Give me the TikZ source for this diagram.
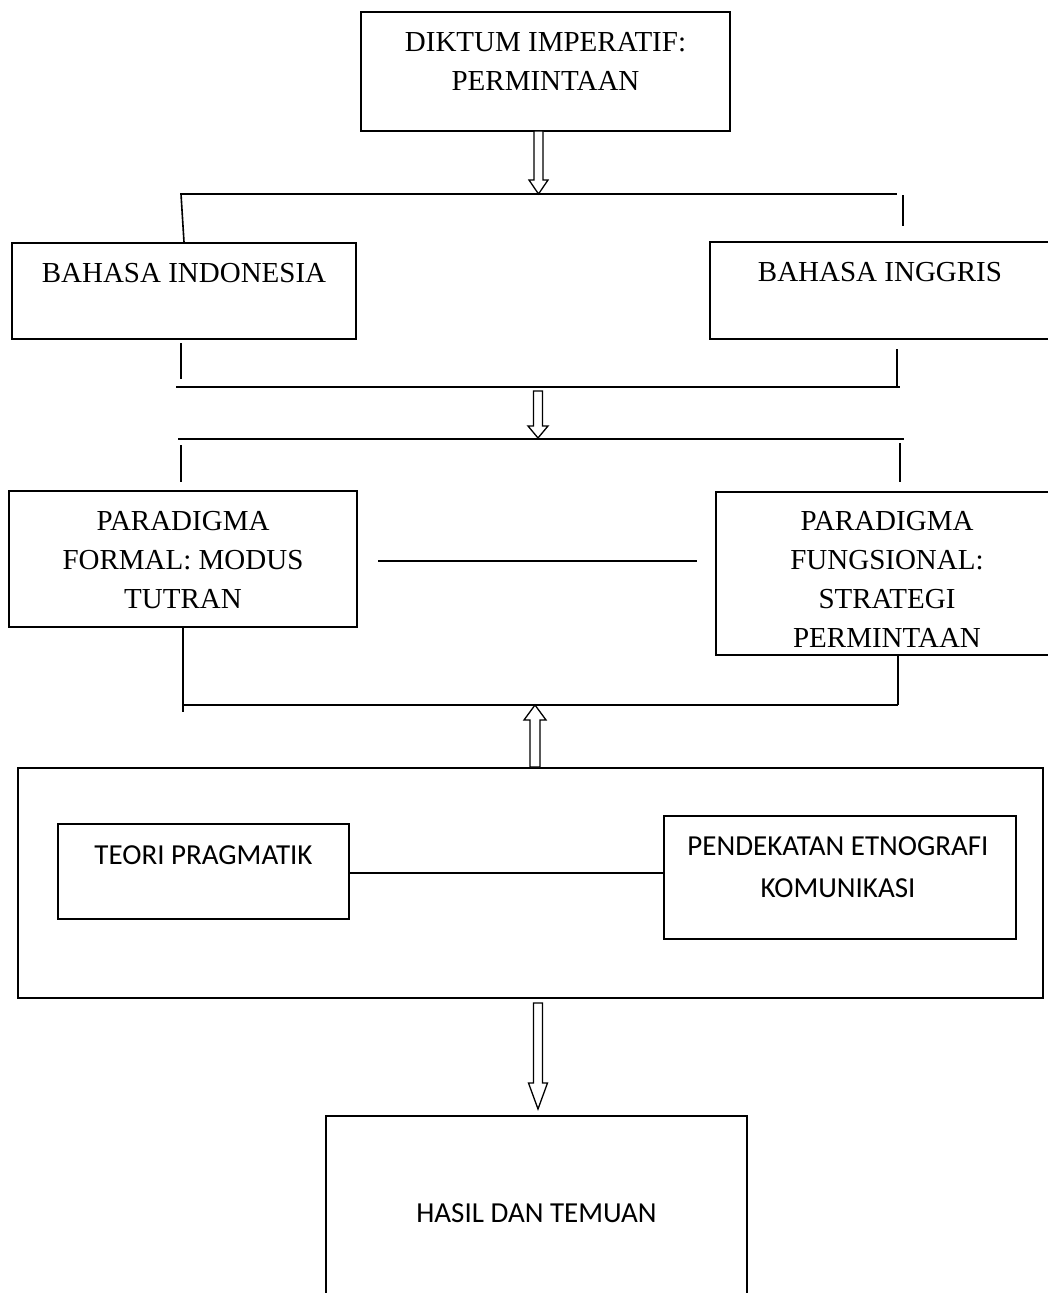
\documentclass[tikz,border=0pt]{standalone}
\usepackage{fontspec}
\setmainfont{Liberation Serif}
\newfontfamily\calib{Carlito}
\begin{document}
\begin{tikzpicture}[x=1pt,y={(0pt,-1pt)},
  box/.style={draw, line width=1.8pt, inner sep=0pt, minimum width=#1},
  conn/.style={line width=1.6pt},
  harrow/.style={draw, line width=1.3pt, fill=white, line join=miter},
  serif/.style={inner sep=0pt, anchor=north, align=center, font=\fontsize{29}{39}\selectfont},
  sans/.style={inner sep=0pt, anchor=north, align=center, font=\calib\fontsize{29}{42}\selectfont}]
\useasboundingbox (0,0) rectangle (1048,1293);
% boxes
\node[box=369pt, minimum height=119pt] (diktum) at (545.5,71.5) {};
\node[box=344pt, minimum height=96pt] (bindo) at (184,291) {};
\node[box=342pt, minimum height=97pt] (bing) at (881,290.5) {};
\node[box=348pt, minimum height=136pt] (pform) at (183,559) {};
\node[box=342pt, minimum height=163pt] (pfung) at (887,573.5) {};
\node[box=1025pt, minimum height=230pt] (frame) at (530.5,883) {};
\node[box=291pt, minimum height=95pt] (teori) at (203.5,871.5) {};
\node[box=352pt, minimum height=123pt] (etno) at (840,877.5) {};
\node[box=421pt, minimum height=204pt] (hasil) at (536.5,1218) {};
% texts
\node[serif] (tdiktum) at (545.5,32) {DIKTUM IMPERATIF:\\PERMINTAAN};
\node[serif] (tbindo) at (184,263) {BAHASA INDONESIA};
\node[serif] (tbing) at (880,262) {BAHASA INGGRIS};
\node[serif] (tpform) at (183,511) {PARADIGMA\\FORMAL: MODUS\\TUTRAN};
\node[serif] (tpfung) at (887,511) {PARADIGMA\\FUNGSIONAL:\\STRATEGI\\PERMINTAAN};
\node[sans] (tteori) at (203.5,845) {TEORI PRAGMATIK};
\node[sans] (tetno) at (838,836) {PENDEKATAN ETNOGRAFI\\KOMUNIKASI};
\node[sans] (thasil) at (536.5,1203) {HASIL DAN TEMUAN};
% coordinates
\coordinate (l1a) at (180,194); \coordinate (l1b) at (897,194);
\coordinate (l1v) at (181,194);
\coordinate (r1a) at (903,195); \coordinate (r1b) at (903,226);
\coordinate (l2a) at (176,387); \coordinate (l2b) at (900,387);
\coordinate (v2a) at (181,343); \coordinate (v2b) at (181,379);
\coordinate (v2c) at (897,349); \coordinate (v2d) at (897,387);
\coordinate (l3a) at (178,439); \coordinate (l3b) at (904,439);
\coordinate (v3a) at (181,445); \coordinate (v3b) at (181,482);
\coordinate (v3c) at (900,443); \coordinate (v3d) at (900,482);
\coordinate (mla) at (378,561); \coordinate (mlb) at (697,561);
\coordinate (v4a) at (183,712);
\coordinate (v4c) at (898,655); \coordinate (v4d) at (898,705);
\coordinate (l4a) at (184,705);
\coordinate (inl) at (0,873);
\coordinate (a1) at (538.5,131);
\coordinate (a2) at (538,391);
\coordinate (a3) at (535,767);
\coordinate (a4) at (538,1003);
% connectors
\draw[conn] (l1a) -- (l1b);
\draw[conn] (l1v) -- (bindo.north);
\draw[conn] (r1a) -- (r1b);
\draw[conn] (v2a) -- (v2b);
\draw[conn] (v2c) -- (v2d);
\draw[conn] (l2a) -- (l2b);
\draw[conn] (l3a) -- (l3b);
\draw[conn] (v3a) -- (v3b);
\draw[conn] (v3c) -- (v3d);
\draw[conn] (mla) -- (mlb);
\draw[conn] (pform.south) -- (v4a);
\draw[conn] (v4c) -- (v4d);
\draw[conn] (l4a) -- (v4d);
\draw[conn] (teori.east |- inl) -- (etno.west |- inl);
% hollow arrows
\draw[harrow] (a1) ++(-4.5,0) -- ++(9,0) -- ++(0,49) -- ++(5,0) -- ++(-9.5,14) -- ++(-9.5,-14) -- ++(5,0) -- cycle;
\draw[harrow] (a2) ++(-4.5,0) -- ++(9,0) -- ++(0,35) -- ++(5.5,0) -- ++(-10,12) -- ++(-10,-12) -- ++(5.5,0) -- cycle;
\draw[harrow] (a3) ++(-5,0) -- ++(10,0) -- ++(0,-47) -- ++(6,0) -- ++(-11,-15) -- ++(-11,15) -- ++(6,0) -- cycle;
\draw[harrow] (a4) ++(-4.5,0) -- ++(9,0) -- ++(0,80) -- ++(5,0) -- ++(-9.5,26) -- ++(-9.5,-26) -- ++(5,0) -- cycle;
\end{tikzpicture}
\end{document}
